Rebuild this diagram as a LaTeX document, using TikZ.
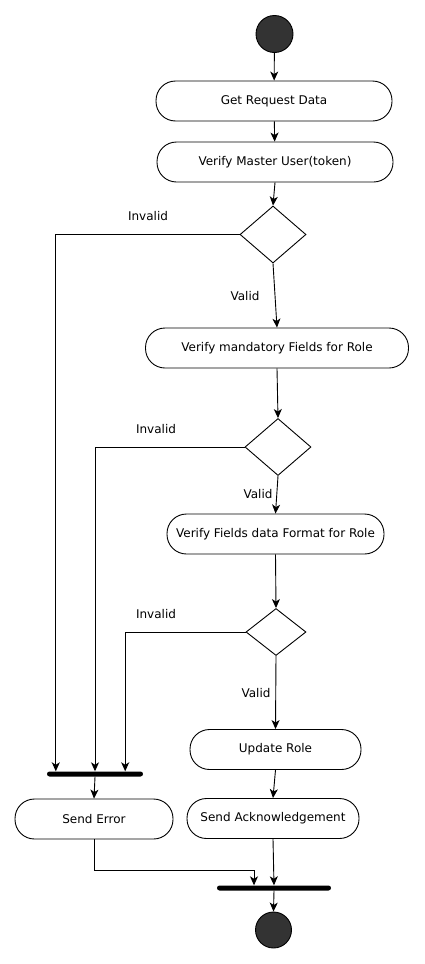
\documentclass[tikz,border=0pt]{standalone}
\usepackage{fontspec}
\setmainfont{DejaVu Sans}
\usetikzlibrary{shapes.geometric,arrows.meta,calc}
\definecolor{dark}{HTML}{333333}
\begin{document}
\begin{tikzpicture}[x=1pt,y=-1pt,
  every node/.style={font=\fontsize{12}{14}\selectfont},
  act/.style={draw,line width=0.9pt,rounded corners=19.5pt,minimum height=40pt,inner sep=0pt},
  dec/.style={draw,line width=0.9pt,diamond,inner sep=0pt},
  bar/.style={fill=black,rounded corners=2.5pt,minimum height=5pt,inner sep=0pt},
  ball/.style={circle,draw,fill=dark,line width=0.9pt,inner sep=0pt,minimum size=37pt},
  arr/.style={-{Stealth[length=9pt,width=8pt,inset=2.5pt]},line width=0.9pt},
  lbl/.style={inner sep=0pt}]
\useasboundingbox (0,0) rectangle (424,964);
\node[ball] (start) at (274.5,34) {};
\node[act,minimum width=236pt] (grd) at (274,101) {Get Request Data};
\node[act,minimum width=236pt] (vmu) at (275,162) {Verify Master User(token)};
\node[dec,minimum width=66pt,minimum height=57pt] (d1) at (273,234.5) {};
\node[act,minimum width=263pt] (vmf) at (277,348) {Verify mandatory Fields for Role};
\node[dec,minimum width=66pt,minimum height=57pt] (d2) at (278,447) {};
\node[act,minimum width=217pt] (vff) at (275.5,534) {Verify Fields data Format for Role};
\node[dec,minimum width=60pt,minimum height=47pt] (d3) at (276,632) {};
\node[act,minimum width=171pt] (upd) at (275.5,749.5) {Update Role};
\node[bar,minimum width=96pt] (bar1) at (95,774) {};
\node[act,minimum width=158pt] (se) at (94,819) {Send Error};
\node[act,minimum width=172pt] (sa) at (273,818.5) {Send Acknowledgement};
\node[bar,minimum width=114pt] (bar2) at (274,888) {};
\node[ball,minimum size=36pt] (end) at (273.5,930) {};

\node[lbl] (li1) at (148,216) {Invalid};
\node[lbl] (lv1) at (245,296) {Valid};
\node[lbl] (li2) at (156,429) {Invalid};
\node[lbl] (lv2) at (258,494) {Valid};
\node[lbl] (li3) at (156,614) {Invalid};
\node[lbl] (lv3) at (256,693) {Valid};

\draw[arr] (start) -- (grd);
\draw[arr] (grd) -- (vmu);
\draw[arr] (vmu.south) -- (d1.north);
\draw[arr] (d1.south) -- (vmf.north);
\draw[arr] (d1.west) -| ($(bar1.north west)+(9,0)$);
\draw[arr] (vmf.south) -- (d2.north);
\draw[arr] (d2.south) -- (vff.north);
\draw[arr] (d2.west) -| (bar1.north);
\draw[arr] (vff.south) -- (d3.north);
\draw[arr] (d3.south) -- (upd.north);
\draw[arr] (d3.west) -| ($(bar1.north east)+(-18,0)$);
\draw[arr] (bar1.south) -- (se.north);
\draw[arr] (upd.south) -- (sa.north);
\draw[arr] (se.south) -- ++(0,31) -| ($(bar2.north)+(-20,0)$);
\draw[arr] (sa.south) -- (bar2.north);
\draw[arr] (bar2.south) -- (end.north);
\end{tikzpicture}
\end{document}
